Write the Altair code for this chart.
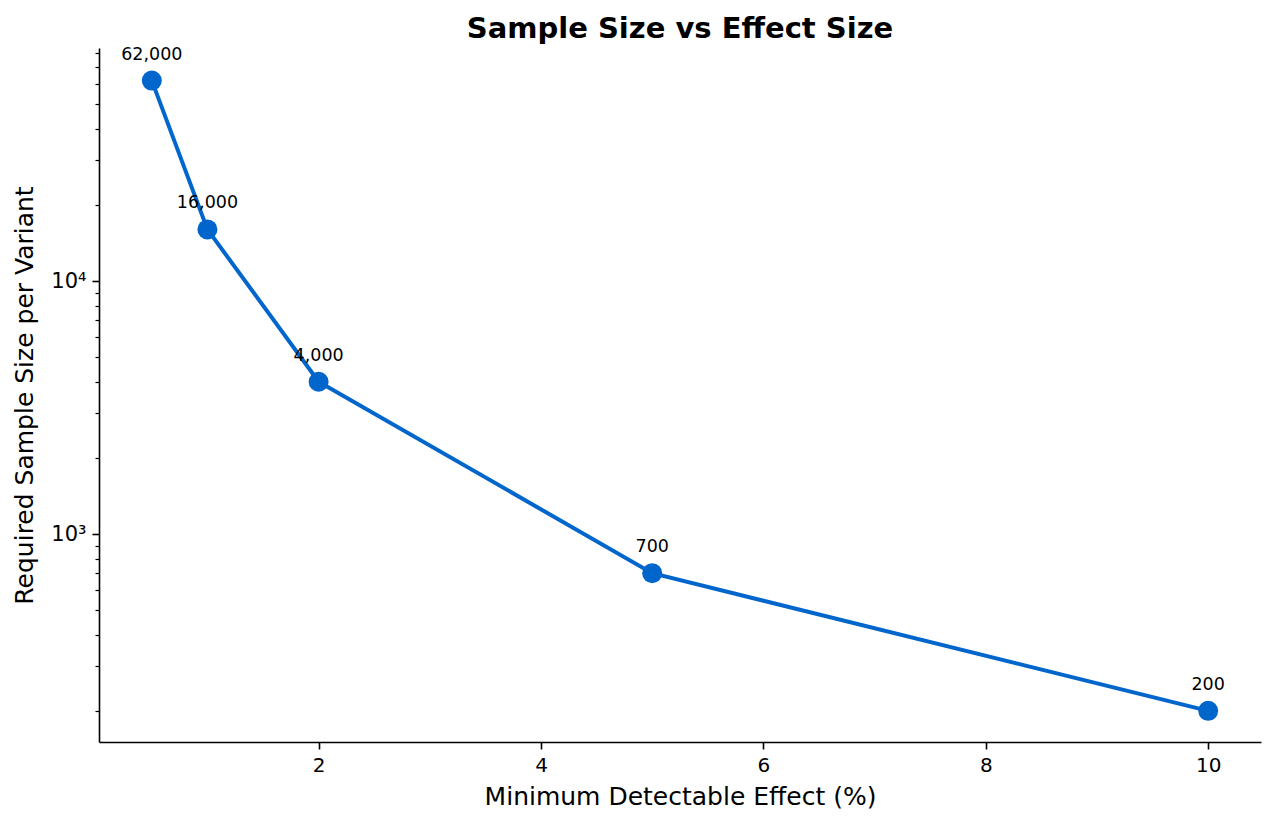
import altair as alt
import pandas as pd

effect = [0.5, 1, 2, 5, 10]
sample = [62000, 16000, 4000, 700, 200]
labels = ["62,000", "16,000", "4,000", "700", "200"]

y_ticks = [200, 300, 400, 500, 600, 700, 800, 900, 1000,
           2000, 3000, 4000, 5000, 6000, 7000, 8000, 9000, 10000,
           20000, 30000, 40000, 50000, 60000, 70000, 80000]
x_ticks = [2, 4, 6, 8, 10]

df = pd.DataFrame({"effect": effect, "sample": sample, "label": labels})

BLUE = "#0066CC"
FONT = "DejaVu Sans"

xs = alt.Scale(domain=[0.025, 10.475], nice=False, zero=False)
ys = alt.Scale(type="log", domain=[150.6, 83400], nice=False)

major = "datum.value == 1000 || datum.value == 10000"

x_enc = alt.X("effect:Q", scale=xs, title="Minimum Detectable Effect (%)",
              axis=alt.Axis(values=x_ticks, grid=False, tickSize=7, tickWidth=1.6,
                            domainWidth=1.6, domainColor="black", tickColor="black",
                            labelColor="black", labelFontSize=20, labelFont=FONT,
                            labelPadding=6, titleFontSize=25, titleFont=FONT,
                            titleFontWeight="normal", titleColor="black", titlePadding=9))
y_enc = alt.Y("sample:Q", scale=ys, title="Required Sample Size per Variant",
              axis=alt.Axis(values=y_ticks, grid=False,
                            tickSize={"condition": {"test": major, "value": 7}, "value": 4},
                            tickWidth={"condition": {"test": major, "value": 1.6}, "value": 1.2},
                            labelExpr="datum.value == 1000 ? '10³' : datum.value == 10000 ? '10⁴' : ''",
                            labelOverlap=False, labelBound=False, labelFlush=False,
                            domainWidth=1.6, domainColor="black", tickColor="black",
                            labelColor="black", labelFontSize=21, labelFont=FONT,
                            labelPadding=6, titleFontSize=25, titleFont=FONT,
                            titleFontWeight="normal", titleColor="black", titlePadding=13))

base = alt.Chart(df).encode(x=x_enc, y=y_enc)

line = base.mark_line(color=BLUE, strokeWidth=4)
pts = base.mark_point(filled=True, color=BLUE, size=400, opacity=1)
txt = base.mark_text(font=FONT, fontSize=17.5, color="black", dy=-21,
                     baseline="alphabetic", align="center").encode(text="label:N")

chart = (line + pts + txt).properties(
    width=1162, height=694,
    title=alt.TitleParams("Sample Size vs Effect Size", font=FONT, fontSize=29,
                          fontWeight="bold", color="black", offset=-2),
    autosize=alt.AutoSizeParams(type="none"),
    padding={"left": 91, "top": 40, "right": 5, "bottom": 70},
).configure_view(stroke=None)

chart.save("out.html", embed_options={"renderer": "svg", "actions": False})
